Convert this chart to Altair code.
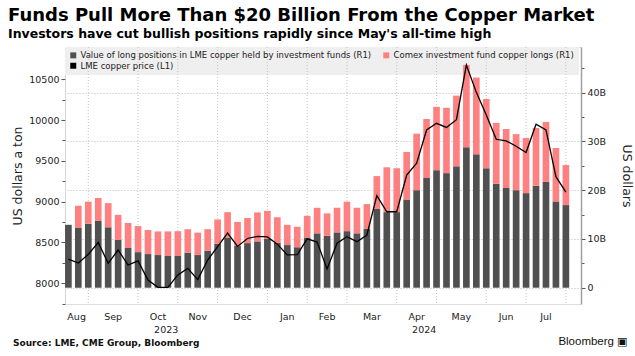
import altair as alt
import pandas as pd

# ---------------- data ----------------
# weekly observations (Fridays), 18 Aug 2023 .. 2 Aug 2024
week_dates = pd.date_range("2023-08-18", periods=51, freq="W-FRI")

# value of long positions in LME copper held by investment funds, US$ bn (R1)
lme_funds_bn = [12.9, 12.25, 13.1, 13.7, 12.4, 9.8, 8.15, 7.3, 6.9, 6.7,
                6.5, 6.5, 7.2, 6.7, 7.6, 9.0, 10.2, 8.55, 9.15, 9.5,
                10.0, 9.2, 8.75, 8.3, 10.3, 11.15, 10.65, 11.35, 11.6, 11.15,
                12.05, 16.15, 15.5, 15.5, 18.1, 20.0, 22.5, 24.1, 23.5, 24.9,
                28.8, 27.35, 24.5, 21.3, 20.45, 20.0, 19.4, 20.9, 21.7, 17.7, 16.95]

# Comex investment fund copper longs, US$ bn (R1)
comex_funds_bn = [0.0, 4.55, 4.55, 4.7, 4.95, 5.15, 5.1, 5.35, 4.95, 4.85,
                  5.05, 5.1, 4.8, 4.6, 4.4, 5.0, 5.3, 4.95, 5.15, 5.95,
                  5.75, 5.25, 4.15, 4.2, 4.45, 5.25, 4.6, 5.05, 6.05, 5.25,
                  5.1, 6.75, 9.2, 9.0, 9.75, 11.6, 12.1, 13.0, 13.4, 14.5,
                  16.9, 15.75, 14.2, 12.5, 12.1, 11.5, 11.3, 11.85, 12.3, 10.95, 8.2]

# LME copper price, US$ a ton (L1)
lme_price = [8295, 8248, 8355, 8500, 8245, 8408, 8224, 8275, 8040, 7950,
             7950, 8102, 8182, 8045, 8285, 8449, 8615, 8452, 8549, 8575,
             8568, 8480, 8347, 8350, 8545, 8505, 8175, 8490, 8571, 8510,
             8592, 9075, 8877, 8877, 9327, 9471, 9879, 9961, 9910, 10005,
             10675, 10340, 10063, 9765, 9746, 9680, 9603, 9949, 9879, 9306, 9118]

series_names = [
    "Value of long positions in LME copper held by investment funds  (R1)",
    "Comex investment fund copper longs (R1)",
    "LME copper price (L1)",
]
series_colors = ["#505050", "#ff8080", "#000000"]

right_ticks = [0, 5, 10, 15, 20, 25, 30, 35, 40, 45]
left_ticks = [7750, 8000, 8250, 8500, 8750, 9000, 9250, 9500, 9750, 10000, 10250, 10500]

# ---------------- tables built from the arrays ----------------
n = len(week_dates)
df = pd.DataFrame({
    "i": list(range(n)),
    "date": week_dates.strftime("%Y-%m-%d"),
    "lme": lme_funds_bn,
    "comex": comex_funds_bn,
    "price": lme_price,
})

X_LO, X_HI = -0.34, 51.52
months = week_dates.to_period("M")
bounds = [i for i in range(1, n) if months[i] != months[i - 1]]
grid_df = pd.DataFrame({"b": bounds})

# month labels centred between month boundaries
edges = [X_LO] + bounds + [X_HI]
month_pos, month_txt = [], []
for k in range(len(edges) - 1):
    a, b = edges[k], edges[k + 1]
    if b - a < 2:
        continue
    first = 0 if k == 0 else bounds[k - 1]
    month_pos.append((a + b) / 2)
    month_txt.append(week_dates[first].strftime("%b"))
month_df = pd.DataFrame({"pos": month_pos, "label": month_txt})

# year labels centred on each year's span
yb = [i for i in range(1, n) if week_dates[i].year != week_dates[i - 1].year][0]
year_df = pd.DataFrame({
    "pos": [(X_LO + yb) / 2, (yb + X_HI) / 2],
    "year": [str(week_dates[0].year), str(week_dates[-1].year)],
})

FONT = "DejaVu Sans"
xscale = alt.Scale(domain=[X_LO, X_HI], nice=False, zero=False)
color_scale = alt.Scale(domain=series_names, range=series_colors)

# ---------------- layers ----------------
legend_bg = alt.Chart(pd.DataFrame({"a": [0]})).mark_rect(color="#efefef").encode(
    x=alt.value(0), x2=alt.value(514), y=alt.value(0), y2=alt.value(28)
)

vgrid = alt.Chart(grid_df).mark_rule(color="#c4c4c4", strokeDash=[1, 2], strokeWidth=1).encode(
    x=alt.X("b:Q", scale=xscale, axis=None)
)

bars = alt.Chart(df).transform_fold(
    ["lme", "comex"], as_=["key", "val"]
).transform_calculate(
    series=f"datum.key == 'lme' ? '{series_names[0]}' : '{series_names[1]}'",
    y0="datum.key == 'lme' ? 0 : datum.lme",
    y1="datum.key == 'lme' ? datum.lme : datum.lme + datum.comex",
    x0="datum.i - 0.335",
    x1="datum.i + 0.335",
).mark_bar().encode(
    x=alt.X("x0:Q", scale=xscale, axis=None),
    x2="x1:Q",
    y=alt.Y("y0:Q", scale=alt.Scale(domain=[-3.34, 49.37], nice=False, zero=False),
            axis=alt.Axis(
                orient="right", values=right_ticks, title="US dollars",
                labelExpr="datum.value % 10 == 0 ? (datum.value == 0 ? '0' : datum.value + 'B') : ''",
                grid=True, gridDash=[1, 2], gridColor="#b8b8b8",
                gridOpacity={"condition": {"test": "datum.value % 10 == 0", "value": 1}, "value": 0},
                tickSize={"condition": {"test": "datum.value % 10 == 0", "value": 4}, "value": 3},
                tickColor="#555555", domainColor="#a0a0a0", domainWidth=1.5,
                labelFont=FONT, labelFontSize=9.5, labelColor="#222222", labelPadding=2,
                titleFont=FONT, titleFontSize=12.5, titleFontWeight="normal",
                titleColor="#222222", titlePadding=14)),
    y2="y1:Q",
    color=alt.Color("series:N", scale=color_scale, legend=alt.Legend(
        title=None, orient="none", legendX=0, legendY=0, columns=2, direction="horizontal",
        padding=4, symbolType="square", symbolSize=36,
        symbolStrokeWidth=0, labelFont=FONT, labelFontSize=8.5, labelColor="#222222",
        labelLimit=600, labelOffset=3, columnPadding=8, rowPadding=1.5)),
)

line = alt.Chart(df).mark_line(strokeWidth=1.3).encode(
    x=alt.X("i:Q", scale=xscale, axis=None),
    y=alt.Y("price:Q", scale=alt.Scale(domain=[7746, 10896], nice=False, zero=False),
            axis=alt.Axis(
                orient="left", values=left_ticks, title="US dollars a ton",
                labelExpr="datum.value % 500 == 0 ? '' + datum.value : ''",
                grid=False, domainColor="#c4c4c4", domainDash=[1, 2],
                tickSize={"condition": {"test": "datum.value % 500 == 0", "value": 4}, "value": 3},
                tickColor="#555555",
                labelFont=FONT, labelFontSize=9.5, labelColor="#222222", labelPadding=2,
                titleFont=FONT, titleFontSize=12.5, titleFontWeight="normal",
                titleColor="#222222", titlePadding=4)),
    color=alt.datum(series_names[2]),
)

month_lbl = alt.Chart(month_df).mark_text(
    align="center", baseline="middle", font=FONT, fontSize=9.5, color="#222222"
).encode(x=alt.X("pos:Q", scale=xscale, axis=None), y=alt.value(269.5), text="label:N")

years = alt.Chart(year_df).mark_text(
    align="center", baseline="middle", font=FONT, fontSize=9.5, color="#222222"
).encode(x=alt.X("pos:Q", scale=xscale, axis=None), y=alt.value(282.5), text="year:N")

source_txt = alt.Chart(pd.DataFrame({"t": ["Source: LME, CME Group, Bloomberg"]})).mark_text(
    align="left", baseline="middle", font=FONT, fontSize=9, fontWeight="bold", color="#111111"
).encode(text="t:N", x=alt.value(-52), y=alt.value(296))

brand_txt = alt.Chart(pd.DataFrame({"t": ["Bloomberg"]})).mark_text(
    align="right", baseline="middle", font="Liberation Sans", fontSize=11.5, color="#111111"
).encode(text="t:N", x=alt.value(549), y=alt.value(295))

brand_icon = alt.Chart(pd.DataFrame({"t": ["\u25a3"]})).mark_text(
    align="left", baseline="middle", font=FONT, fontSize=11, color="#111111"
).encode(text="t:N", x=alt.value(552), y=alt.value(295))

chart = alt.layer(
    legend_bg, vgrid, bars, line, month_lbl, years, source_txt, brand_txt, brand_icon
).resolve_scale(
    y="independent"
).properties(
    width=516, height=257,
    padding={"left": 65, "top": 47, "right": 54, "bottom": 52},
    autosize=alt.AutoSizeParams(type="none"),
    title=alt.TitleParams(
        text="Funds Pull More Than $20 Billion From the Copper Market",
        subtitle="Investors have cut bullish positions rapidly since May's all-time high",
        anchor="start", frame="group", dx=-57, offset=6,
        font=FONT, fontSize=18, fontWeight="bold", color="#000000",
        subtitleFont=FONT, subtitleFontSize=12.5, subtitleFontWeight="bold",
        subtitleColor="#000000", subtitlePadding=3),
).configure_view(stroke=None).configure(background="white")

chart.save("out.html", embed_options={"renderer": "svg", "actions": False})
